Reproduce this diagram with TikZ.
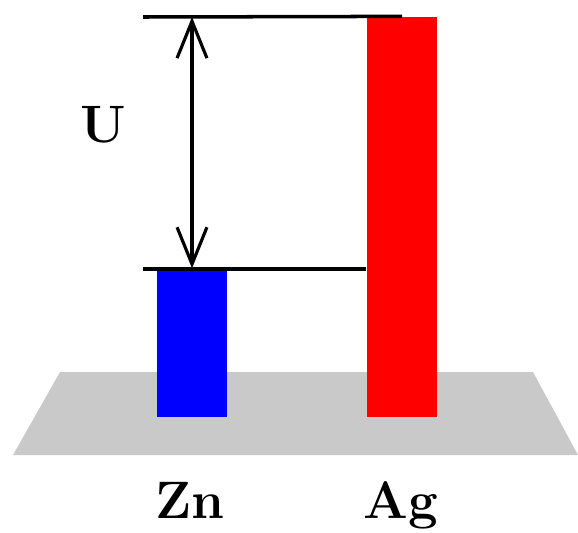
\documentclass[tikz,border=0pt]{standalone}
\usepackage{fontspec}
\usetikzlibrary{arrows.meta}

\colorlet{zncol}{blue}
\colorlet{agcol}{red}
\colorlet{basecol}{gray!42}

\begin{document}
\begin{tikzpicture}[x=0.02cm, y=-0.02cm,
          bar/.style={draw=none, inner sep=0, minimum width=1.42cm, anchor=south},
          lbl/.style={font=\fontsize{30}{32}\selectfont\rmfamily\bfseries, inner sep=0, anchor=base},
          level/.style={line width=2pt},
          dim/.style={line width=1.8pt, {Straight Barb[length=21pt, width=17pt, line width=1.8pt]}-{Straight Barb[length=21pt, width=17pt, line width=1.8pt]}}
        ]
        \useasboundingbox (0,0) rectangle (578,532);

        % ---- base plate ----
        \fill[basecol] (60,372) -- (533,372) -- (578,455) -- (13,455) -- cycle;

        % ---- electrodes ----
        \node[bar, fill=zncol, minimum height=2.96cm] (zn) at (192,417) {};
        \node[bar, fill=agcol, minimum height=8.0cm, minimum width=1.42cm] (ag) at (402,417) {};

        % ---- potential levels ----
        \coordinate (top) at (143,17);
        \coordinate (low) at (143,269);
        \draw[level] (top) -- (ag.north);
        \draw[level] (low) -- (low -| ag.west);

        % ---- voltage U ----
        \coordinate (utop) at (zn.north |- top);
        \draw[dim] (utop) -- (zn.north);
        \node[lbl] (u) at (103,142) {U};

        % ---- metal labels ----
        \node[lbl] (znlbl) at (190,518) {Zn};
        \node[lbl] (aglbl) at (401,518) {Ag};

      \end{tikzpicture}
\end{document}
